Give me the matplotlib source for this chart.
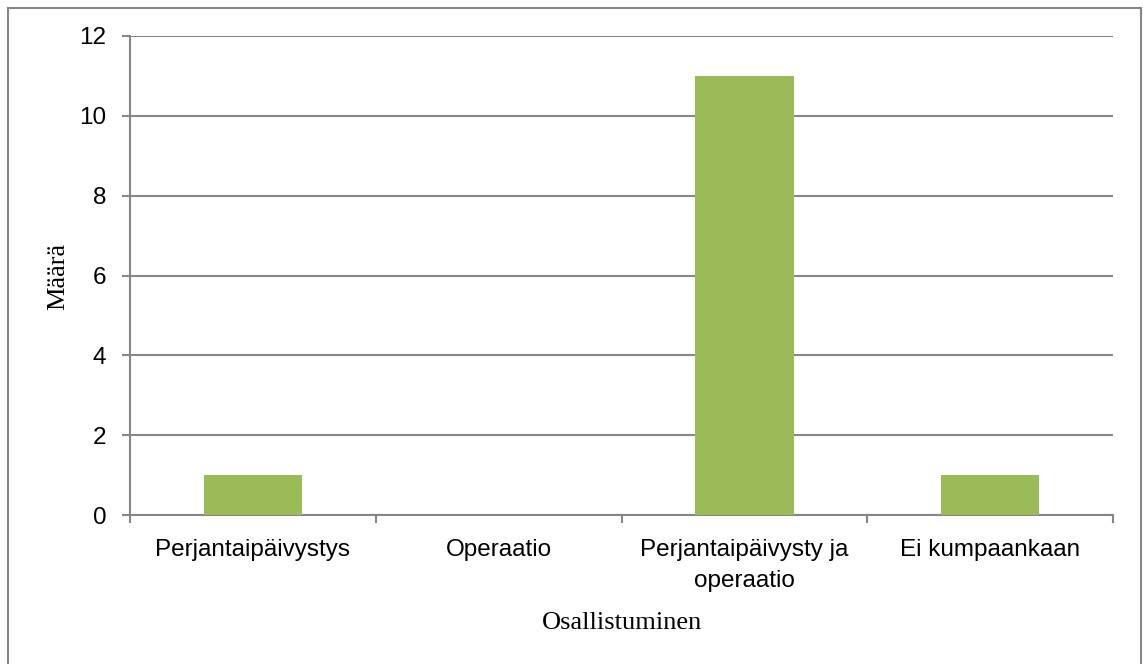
import matplotlib
matplotlib.use("Agg")
import matplotlib.pyplot as plt
from matplotlib.patches import Rectangle

categories = ["Perjantaipäivystys", "Operaatio", "Perjantaipäivysty ja\noperaatio", "Ei kumpaankaan"]
counts = [1, 0, 11, 1]
yticks = [0, 2, 4, 6, 8, 10, 12]

grey = "#868686"
green = "#9BBB59"
sans = ["Liberation Sans Narrow", "Liberation Sans", "DejaVu Sans"]
serif = ["Liberation Serif", "DejaVu Serif"]

fig = plt.figure(figsize=(11.43, 6.64), dpi=100)
ax = fig.add_axes([130 / 1143, 1 - 515 / 664, 983 / 1143, 479 / 664])

x = list(range(len(categories)))
ax.bar(x, counts, width=0.40, color=green, zorder=3)

ax.set_xlim(-0.5, len(categories) - 0.5)
ax.set_ylim(0, 12)
ax.set_yticks(yticks)
ax.set_yticklabels([str(v) for v in yticks], fontsize=17.5, family=sans)
ax.set_xticks(x)
ax.set_xticklabels(categories, fontsize=17.5, family=sans, linespacing=1.55)
ax.tick_params(axis="x", length=0, pad=17)
ax.set_xticks([i - 0.5 for i in range(len(categories) + 1)], minor=True)
ax.tick_params(axis="x", which="minor", length=6, width=1.5, color=grey, direction="out")
ax.tick_params(axis="y", length=6, width=1.5, color=grey, direction="out", pad=11)

ax.grid(axis="y", color=grey, linewidth=1.5, zorder=0)
for s in ["top", "right"]:
    ax.spines[s].set_visible(False)
for s in ["left", "bottom"]:
    ax.spines[s].set_color(grey)
    ax.spines[s].set_linewidth(1.5)

fig.text(58 / 1143, 1 - 276 / 664, "Määrä", rotation=90, ha="center", va="center",
         fontsize=19, family=serif)
fig.text(622 / 1143, 1 - 623 / 664, "Osallistuminen", ha="center", va="center",
         fontsize=19, family=serif)

fig.patches.append(Rectangle((8 / 1143, -0.01), 1133 / 1143, 1 - 8 / 664 + 0.01,
                             transform=fig.transFigure, fill=False,
                             edgecolor=grey, linewidth=1.5))

fig.savefig("out.png", dpi=100)
